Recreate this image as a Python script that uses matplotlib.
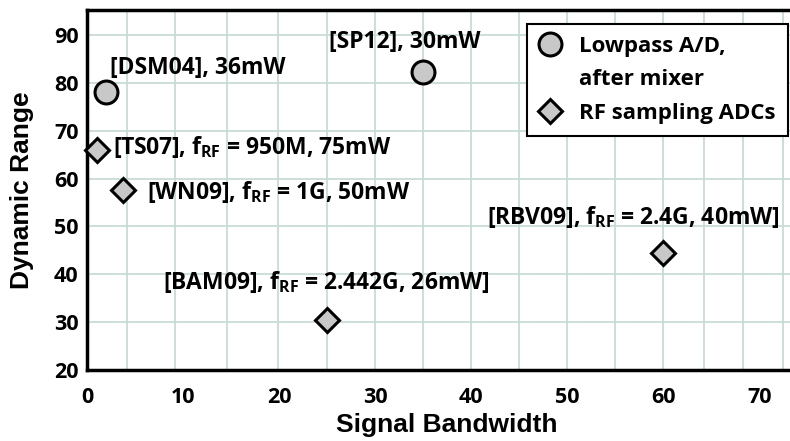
import matplotlib
matplotlib.use("Agg")
import matplotlib.pyplot as plt
from matplotlib.lines import Line2D

plt.rcParams['font.family'] = ['Open Sans', 'DejaVu Sans']
plt.rcParams['mathtext.fontset'] = 'custom'
plt.rcParams['mathtext.rm'] = 'Open Sans:bold'
plt.rcParams['mathtext.bf'] = 'Open Sans:bold'

# lowpass A/D after mixer
lp_names = ['[DSM04], 36mW', '[SP12], 30mW']
lp_bw = [2, 35]
lp_dr = [78, 82.3]

# RF sampling ADCs
rf_names = [r'[TS07], f$_{\rm RF}$ = 950M, 75mW',
            r'[WN09], f$_{\rm RF}$ = 1G, 50mW',
            r'[BAM09], f$_{\rm RF}$ = 2.442G, 26mW]',
            r'[RBV09], f$_{\rm RF}$ = 2.4G, 40mW]']
rf_bw = [1, 3.7, 25, 60]
rf_dr = [66, 57.5, 30.5, 44.5]

# label anchor spots (left edge, vertical centre)
lp_lab = [(2.4, 83.0), (25.2, 88.5)]
rf_lab = [(2.7, 66.6), (6.25, 57.2), (7.9, 38.4), (41.6, 52.0)]

xticks = [0, 10, 20, 30, 40, 50, 60, 70]
yticks = [20, 30, 40, 50, 60, 70, 80, 90]
xgrid = [4.2, 9.2, 14.6, 19.9, 25, 30, 35, 40, 45, 50, 55, 60, 64.2, 68.3, 72.5]

fig = plt.figure(figsize=(7.9, 4.41), dpi=100)
ax = fig.add_axes([87/790, 71/441, 703/790, 360/441])
ax.set_xlim(0, 73.2)
ax.set_ylim(20, 95.2)

gc = '#c9dbd6'
for g in xgrid:
    ax.axvline(g, color=gc, lw=1.3, zorder=0)
for g in yticks[1:]:
    ax.axhline(g, color=gc, lw=1.3, zorder=0)

fill = '#c8c8c8'
ax.plot(lp_bw, lp_dr, 'o', ms=16.5, mfc=fill, mec='black', mew=2.2, zorder=3, clip_on=False)
ax.plot(rf_bw, rf_dr, 'D', ms=12.5, mfc=fill, mec='black', mew=2.2, zorder=3, clip_on=False)

for name, (tx, ty) in zip(lp_names + rf_names, lp_lab + rf_lab):
    ax.text(tx, ty, name, fontsize=16.5, fontweight='bold', va='center', ha='left')

ax.set_xticks(xticks)
ax.set_yticks(yticks)
ax.tick_params(length=0, labelsize=15.5)
ax.tick_params(axis='x', pad=12)
ax.tick_params(axis='y', pad=6)
for lab in ax.get_xticklabels() + ax.get_yticklabels():
    lab.set_fontweight('bold')

for s in ['left', 'bottom', 'top']:
    ax.spines[s].set_linewidth(2.5)
ax.spines['right'].set_visible(False)

ax.set_xlabel('Signal Bandwidth', family='Liberation Sans', fontweight='bold', fontsize=19)
ax.set_ylabel('Dynamic Range', family='Liberation Sans', fontweight='bold', fontsize=19)
ax.xaxis.set_label_coords(0.512, -0.12)
ax.yaxis.set_label_coords(-0.076, 0.5)

# legend: second line of the first entry gets an empty handle
handles = [Line2D([], [], ls='', marker='o', ms=16.5, mfc=fill, mec='black', mew=2.2),
           Line2D([], [], ls='', marker=''),
           Line2D([], [], ls='', marker='D', ms=12.5, mfc=fill, mec='black', mew=2.2)]
leg = ax.legend(handles, ['Lowpass A/D,', 'after mixer', 'RF sampling ADCs'],
                loc='upper right', bbox_to_anchor=(0.997, 0.961),
                prop={'weight': 'bold', 'size': 16}, fancybox=False,
                framealpha=1, edgecolor='black', handletextpad=0.85,
                borderpad=0.55, labelspacing=0.55, handlelength=0.95,
                borderaxespad=0)
leg.get_frame().set_linewidth(1.5)

fig.savefig('out.png', dpi=100)
